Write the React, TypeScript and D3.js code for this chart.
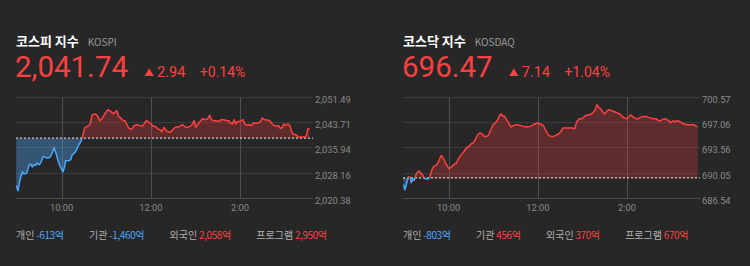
import React, { useLayoutEffect, useRef, useState } from 'react';
import * as d3 from 'd3';

// ---------- DATA ----------
const kospiTimes = [-1, 1.3, 4.0, 7.1, 9.4, 13.0, 16.1, 18.4, 20.6, 22.8, 25.1, 27.3, 29.6, 31.8, 35.3, 38.6, 40.7, 44.3, 47.4, 49.7, 52.0, 55.5, 58.7, 61.8, 64.1, 65.4, 69.9, 72.2, 74.3, 77.5, 80.2, 83.3, 85.6, 87.7, 91.0, 94.5, 98.1, 101.2, 105.8, 108.8, 111.5, 114.6, 117.9, 122.3, 125.9, 129.4, 134.4, 136.7, 140.2, 143.4, 145.5, 147.8, 150.9, 154.5, 157.6, 161.3, 164.3, 168.0, 171.1, 173.8, 177.0, 180.1, 183.7, 186.8, 189.5, 192.6, 194.9, 197.9, 200.6, 203.9, 206.9, 210.6, 213.7, 217.3, 220.4, 223.1, 226.2, 229.8, 232.9, 236.1, 238.3, 240.5, 243.2, 246.3, 249.5, 253.0, 256.7, 259.3, 261.6, 264.7, 268.4, 271.9, 275.1, 278.2, 281.8, 284.9, 287.2, 289.9, 292.0, 294.3, 296.6, 299.7, 302.0, 304.1, 306.4, 309.5, 312.2, 315.4, 318.5, 322.1, 324.3, 327.5, 330.2, 333.3, 336.4, 340.0, 342.3, 345.4, 349.0, 351.7, 354.4, 357.0, 358.8, 361.5, 364.6, 366.9, 369.2, 371.3, 374.9, 378.0, 381.2, 384.7, 388.4, 390.1, 391.4, 393.7];
const kospiValues = [2024.26, 2022.63, 2026.02, 2028.39, 2027.77, 2027.96, 2030.42, 2030.85, 2029.93, 2030.64, 2030.42, 2031.16, 2030.64, 2031.16, 2033.19, 2032.89, 2032.70, 2032.89, 2034.24, 2035.97, 2034.55, 2031.65, 2029.81, 2028.39, 2030.11, 2031.87, 2031.87, 2032.18, 2033.72, 2034.24, 2035.26, 2036.80, 2037.63, 2038.86, 2041.94, 2042.43, 2042.96, 2046.04, 2046.25, 2045.51, 2044.19, 2044.81, 2046.25, 2047.58, 2047.05, 2046.35, 2047.27, 2045.51, 2044.81, 2044.19, 2044.19, 2042.96, 2041.73, 2041.73, 2042.65, 2042.96, 2042.74, 2042.43, 2043.17, 2044.19, 2043.79, 2043.17, 2042.43, 2042.43, 2041.63, 2041.42, 2040.71, 2042.13, 2041.11, 2040.71, 2040.71, 2041.73, 2042.25, 2042.25, 2042.65, 2042.96, 2042.25, 2042.13, 2042.43, 2043.17, 2044.19, 2042.13, 2043.17, 2043.97, 2044.81, 2044.50, 2044.81, 2045.82, 2044.50, 2044.19, 2044.19, 2043.97, 2044.50, 2044.50, 2044.28, 2044.19, 2043.48, 2043.17, 2044.50, 2043.17, 2043.97, 2043.97, 2044.19, 2044.50, 2043.17, 2042.74, 2042.96, 2042.74, 2043.48, 2043.48, 2043.48, 2043.97, 2045.02, 2044.50, 2044.40, 2044.19, 2043.48, 2042.74, 2042.43, 2042.74, 2041.73, 2042.13, 2043.17, 2042.74, 2043.17, 2042.74, 2040.89, 2040.09, 2039.88, 2039.35, 2039.17, 2039.17, 2039.17, 2040.40, 2041.73, 2041.74];

const kosdaqTimes = [-0.5, 1.2, 3.9, 6.1, 8.4, 9.7, 12.0, 13.8, 15.5, 18.2, 20.1, 22.8, 25.2, 27.2, 29.0, 33.0, 34.9, 37.3, 39.8, 44.4, 47.5, 50.2, 53.3, 56.9, 60.5, 63.2, 66.7, 70.4, 73.5, 77.1, 80.2, 83.9, 87.0, 90.2, 92.9, 96.0, 99.1, 101.8, 105.0, 108.1, 111.8, 113.9, 116.2, 119.9, 123.0, 126.1, 128.8, 131.5, 132.4, 135.1, 138.2, 141.4, 144.1, 147.2, 151.7, 156.3, 160.7, 165.2, 169.8, 174.2, 178.6, 183.2, 187.7, 190.8, 194.4, 198.1, 201.2, 204.3, 207.9, 211.0, 213.7, 216.9, 221.4, 225.8, 229.5, 232.6, 235.8, 238.5, 241.6, 244.7, 248.4, 252.0, 255.1, 257.4, 259.5, 261.8, 264.5, 267.2, 269.9, 272.6, 275.7, 279.4, 283.8, 288.4, 291.5, 295.1, 298.7, 301.9, 305.0, 308.6, 312.1, 315.4, 318.5, 322.1, 325.6, 328.9, 331.9, 335.6, 339.1, 342.3, 345.4, 348.1, 351.2, 353.5, 355.8, 358.9, 362.6, 364.7, 368.0, 370.7, 373.8, 376.9, 380.6, 384.1, 387.2, 390.3, 393.0, 395.3];
const kosdaqValues = [688.39, 687.69, 688.67, 689.50, 689.43, 688.67, 689.08, 689.01, 689.64, 690.12, 690.29, 689.99, 689.71, 689.29, 689.22, 689.22, 689.50, 690.40, 690.89, 691.17, 691.86, 692.46, 692.00, 691.17, 690.61, 690.79, 691.17, 691.40, 692.00, 692.56, 692.93, 693.49, 693.71, 694.04, 694.18, 694.64, 695.33, 695.57, 695.43, 695.10, 695.10, 695.33, 695.89, 696.72, 696.96, 697.42, 698.11, 698.21, 697.88, 697.88, 697.42, 696.82, 696.40, 696.63, 696.72, 696.63, 696.49, 696.40, 696.49, 696.72, 696.96, 696.82, 696.58, 695.89, 695.24, 695.10, 695.10, 695.24, 695.43, 695.79, 696.26, 696.26, 696.26, 696.26, 696.17, 697.18, 697.56, 697.51, 697.74, 698.01, 698.11, 698.21, 698.49, 698.81, 699.50, 699.13, 698.94, 698.49, 698.21, 698.57, 698.81, 698.67, 698.49, 698.29, 698.11, 697.74, 697.56, 697.74, 698.11, 697.74, 697.56, 697.56, 697.79, 697.83, 697.88, 697.74, 697.65, 697.56, 697.56, 697.28, 697.28, 697.46, 697.56, 697.42, 697.28, 697.00, 697.28, 697.10, 697.28, 697.18, 696.96, 696.82, 696.72, 696.72, 696.72, 696.72, 696.49, 696.47];

const timeTicks = [60, 180, 300];
const timeTickLabels = ['10:00', '12:00', '2:00'];

const kospiTicks = [2020.38, 2028.16, 2035.94, 2043.71, 2051.49];
const kospiTickLabels = ['2,020.38', '2,028.16', '2,035.94', '2,043.71', '2,051.49'];
const kosdaqTicks = [686.54, 690.05, 693.56, 697.06, 700.57];
const kosdaqTickLabels = ['686.54', '690.05', '693.56', '697.06', '700.57'];

const kospiHeader = { title: '코스피 지수', code: 'KOSPI', value: '2,041.74', change: '2.94', pct: '+0.14%' };
const kosdaqHeader = { title: '코스닥 지수', code: 'KOSDAQ', value: '696.47', change: '7.14', pct: '+1.04%' };
const kospiPrevClose = 2038.8;
const kosdaqPrevClose = 689.33;

const flowLabels = ['개인', '기관', '외국인', '프로그램'];
const kospiFlows = [-613, -1460, 2058, 2950];
const kosdaqFlows = [-803, 456, 370, 670];

// ---------- STYLE ----------
const BG = '#272727';
const RED = '#ff4040';
const BLUE = '#4aa8ff';
const KR = '"Noto Sans CJK KR", "Noto Sans", sans-serif';
const NUM = 'Roboto, "Noto Sans", sans-serif';

const PLOT_L = 16, PLOT_R = 313, PLOT_T = 97, PLOT_B = 198;
const FLOW_GAP = 25.5;
const LABEL_GAP = 1.8;

const fmtBase = d3.format(',');
const fmt = (v: number) => fmtBase(v).replace('\u2212', '-');

type PanelProps = {
  dx: number;
  header: { title: string; code: string; value: string; change: string; pct: string };
  times: number[];
  values: number[];
  ticks: number[];
  tickLabels: string[];
  prevClose: number;
  flows: number[];
  id: string;
};

function Panel({ dx, header, times, values, ticks, tickLabels, prevClose, flows, id }: PanelProps) {
  const x = d3.scaleLinear().domain([0, 397]).range([17, 17 + (397 * 44.6) / 60]);
  const y = d3.scaleLinear().domain([ticks[0], ticks[ticks.length - 1]]).range([PLOT_B, PLOT_T]);
  const data = times.map((t, i) => ({ t, v: values[i] }));
  const yBase = y(prevClose);

  const line = d3.line<{ t: number; v: number }>().x(d => x(d.t)).y(d => y(d.v));
  const area = d3.area<{ t: number; v: number }>().x(d => x(d.t)).y0(yBase).y1(d => y(d.v));
  const linePath = line(data) || '';
  const areaPath = area(data) || '';

  // measured layout
  const titleRef = useRef<SVGTextElement | null>(null);
  const valueRef = useRef<SVGTextElement | null>(null);
  const changeRef = useRef<SVGTextElement | null>(null);
  const labRefs = useRef<(SVGTextElement | null)[]>([]);
  const valRefs = useRef<(SVGTextElement | null)[]>([]);
  const [lay, setLay] = useState<{ codeX: number; triX: number; chX: number; pctX: number; flows: { lx: number; vx: number }[] } | null>(null);

  useLayoutEffect(() => {
    const tw = titleRef.current ? titleRef.current.getComputedTextLength() : 66;
    const vw = valueRef.current ? valueRef.current.getComputedTextLength() : 110;
    const cw = changeRef.current ? changeRef.current.getComputedTextLength() : 28;
    const triX = 15 + vw + 16.5;
    const chX = triX + 12.5;
    const pctX = chX + cw + 14.5;
    let cx = 16;
    const fl = flowLabels.map((_, i) => {
      const lw = labRefs.current[i] ? labRefs.current[i]!.getComputedTextLength() : 20;
      const ww = valRefs.current[i] ? valRefs.current[i]!.getComputedTextLength() : 28;
      const item = { lx: cx, vx: cx + lw + LABEL_GAP };
      cx = cx + lw + LABEL_GAP + ww + FLOW_GAP;
      return item;
    });
    setLay({ codeX: 16 + tw + 9, triX, chX, pctX, flows: fl });
  }, []);

  const L = lay || { codeX: 90, triX: 145, chX: 158, pctX: 200, flows: flowLabels.map((_, i) => ({ lx: 16 + i * 75, vx: 38 + i * 75 })) };
  const crisp = (v: number) => Math.round(v) + 0.5;

  return (
    <g transform={`translate(${dx},0)`}>
      <defs>
        <clipPath id={`${id}-up`}>
          <rect x={0} y={0} width={360} height={yBase} />
        </clipPath>
        <clipPath id={`${id}-dn`}>
          <rect x={0} y={yBase} width={360} height={266 - yBase} />
        </clipPath>
      </defs>

      {/* header */}
      <text ref={titleRef} x={16} y={45.5} fill="#ffffff" fontFamily={KR} fontWeight="bold" fontSize={13}>{header.title}</text>
      <text x={L.codeX} y={46} fill="#9a9a9a" fontFamily={KR} fontSize={10}>{header.code}</text>
      <text ref={valueRef} x={15} y={77} fill={RED} fontFamily={NUM} fontSize={29.5}>{header.value}</text>
      <path d={`M${L.triX},76 L${L.triX + 9.3},76 L${L.triX + 4.65},68.3 Z`} fill={RED} />
      <text ref={changeRef} x={L.chX} y={77} fill={RED} fontFamily={NUM} fontSize={14.5}>{header.change}</text>
      <text x={L.pctX} y={77} fill={RED} fontFamily={NUM} fontSize={14}>{header.pct}</text>

      {/* grid */}
      {ticks.map((t, i) => (
        <line key={`h${i}`} x1={PLOT_L} x2={PLOT_R} y1={crisp(y(t))} y2={crisp(y(t))}
          stroke={i === 0 ? '#4a4a4a' : '#3b3b3b'} strokeWidth={1} />
      ))}
      {timeTicks.map((t, i) => (
        <line key={`v${i}`} x1={crisp(x(t))} x2={crisp(x(t))} y1={PLOT_T} y2={PLOT_B}
          stroke="#505050" strokeWidth={1} />
      ))}

      {/* areas */}
      <path d={areaPath} fill="rgba(255,60,60,0.26)" clipPath={`url(#${id}-up)`} />
      <path d={areaPath} fill="rgba(77,169,255,0.36)" clipPath={`url(#${id}-dn)`} />

      {/* baseline */}
      <line x1={PLOT_L} x2={PLOT_R} y1={yBase} y2={yBase} stroke="#d0d0d0" strokeWidth={1.2} strokeDasharray="2,2" />

      {/* lines */}
      <path d={linePath} fill="none" stroke={RED} strokeWidth={1.5} strokeLinejoin="round" clipPath={`url(#${id}-up)`} />
      <path d={linePath} fill="none" stroke={BLUE} strokeWidth={1.5} strokeLinejoin="round" clipPath={`url(#${id}-dn)`} />

      {/* y labels */}
      {ticks.map((t, i) => (
        <text key={`yl${i}`} x={PLOT_R + 2} y={y(t) + 5.8} fill="#8a8a8a" fontFamily={NUM} fontSize={9.3}>{tickLabels[i]}</text>
      ))}
      {/* x labels */}
      {timeTicks.map((t, i) => (
        <text key={`xl${i}`} x={x(t)} y={210.8} textAnchor="middle" fill="#8a8a8a" fontFamily={NUM} fontSize={9.3}>{timeTickLabels[i]}</text>
      ))}

      {/* flows */}
      {flowLabels.map((lab, i) => (
        <g key={`f${i}`}>
          <text ref={el => { labRefs.current[i] = el; }} x={L.flows[i].lx} y={239} fill="#b0b0b0" fontFamily={KR} fontSize={10}>{lab}</text>
          <text ref={el => { valRefs.current[i] = el; }} x={L.flows[i].vx} y={239} fill={flows[i] < 0 ? BLUE : RED}
            fontFamily={KR} fontSize={10} letterSpacing={-0.4}>{fmt(flows[i]) + '억'}</text>
        </g>
      ))}
    </g>
  );
}

export default function App() {
  return (
    <svg width={750} height={266} style={{ position: 'absolute', left: 0, top: 0, display: 'block' }}>
      <rect x={0} y={0} width={750} height={266} fill={BG} />
      <Panel id="kospi" dx={0} header={kospiHeader} times={kospiTimes} values={kospiValues}
        ticks={kospiTicks} tickLabels={kospiTickLabels} prevClose={kospiPrevClose} flows={kospiFlows} />
      <Panel id="kosdaq" dx={387} header={kosdaqHeader} times={kosdaqTimes} values={kosdaqValues}
        ticks={kosdaqTicks} tickLabels={kosdaqTickLabels} prevClose={kosdaqPrevClose} flows={kosdaqFlows} />
    </svg>
  );
}
